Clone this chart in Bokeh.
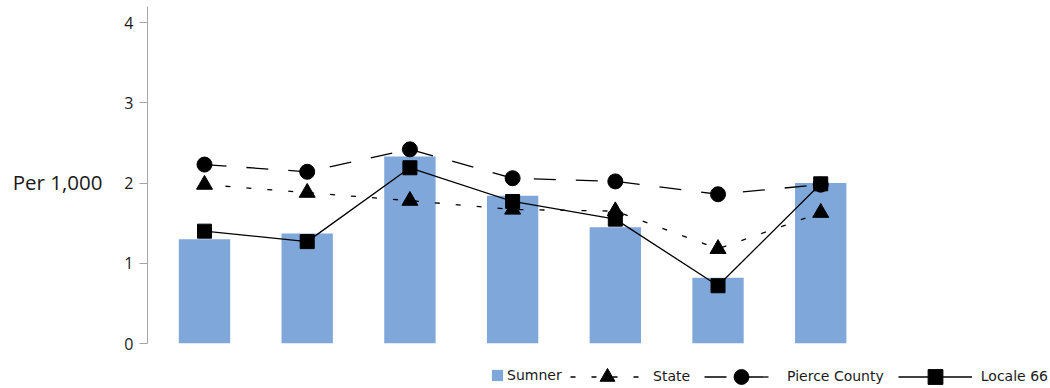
from bokeh.plotting import figure
from bokeh.models import Range1d, FixedTicker, Label, Legend, LegendItem
from bokeh.layouts import column, row
from bokeh.embed import file_html
from bokeh.resources import INLINE

# ---- data ----
periods = [0, 1, 2, 3, 4, 5, 6]
sumner = [1.30, 1.37, 2.33, 1.84, 1.45, 0.82, 2.00]
state = [1.98, 1.88, 1.78, 1.67, 1.65, 1.18, 1.63]
pierce = [2.23, 2.14, 2.42, 2.06, 2.02, 1.86, 1.98]
locale = [1.40, 1.27, 2.19, 1.77, 1.55, 0.72, 1.99]
y_ticks = [0, 1, 2, 3, 4]
y_label = "Per 1,000"

BAR = "#7FA7D9"
STYLE = {
    "state": dict(line_dash="5 16", marker="triangle", size=16),
    "pierce": dict(line_dash="22 20", marker="circle", size=15),
    "locale": dict(line_dash="solid", marker="square", size=14),
}

def add_bars(fig):
    return fig.vbar(x=periods, top=sumner, width=0.5, bottom=0, fill_color=BAR, line_color=None)

def add_series(fig, ys, key):
    st = STYLE[key]
    ln = fig.line(periods, ys, line_color="black", line_width=1.3, line_dash=st["line_dash"])
    mk = fig.scatter(periods, ys, marker=st["marker"], size=st["size"], fill_color="black", line_color="black")
    return [ln, mk]

LEFT_W = 110
MAIN_H = 358

# ---- main chart ----
p = figure(width=1050 - LEFT_W, height=MAIN_H, output_backend="svg", toolbar_location=None,
           x_range=Range1d(-0.555, 6.582), y_range=Range1d(0, 4.2),
           x_axis_location=None, min_border_left=147 - LEFT_W, min_border_right=170,
           min_border_top=6, min_border_bottom=MAIN_H - 343)
p.outline_line_color = None
p.xgrid.visible = False
p.ygrid.visible = False

ax = p.yaxis[0]
ax.ticker = FixedTicker(ticks=y_ticks)
ax.axis_line_color = "#A6A6A6"
ax.major_tick_line_color = "#A6A6A6"
ax.major_tick_out = 8
ax.major_tick_in = 0
ax.minor_tick_line_color = None
ax.major_label_text_font = "Open Sans"
ax.major_label_text_font_size = "16px"
ax.major_label_text_color = "#1a1a1a"
ax.major_label_standoff = 6

add_bars(p)
add_series(p, state, "state")
add_series(p, pierce, "pierce")
add_series(p, locale, "locale")

# ---- y label panel ----
lp = figure(width=LEFT_W, height=MAIN_H, output_backend="svg", toolbar_location=None,
            x_range=Range1d(0, LEFT_W), y_range=Range1d(0, MAIN_H),
            x_axis_location=None, y_axis_location=None, min_border=0)
lp.outline_line_color = None
lp.grid.visible = False
lp.add_layout(Label(x=102, y=MAIN_H - 186, text=y_label, text_align="right", text_baseline="middle",
                    text_font="Open Sans", text_font_size="20.5px", text_color="#1a1a1a"))

# ---- legend panel (glyphs drawn out of view; only the legend shows) ----
LEG_H = 388 - MAIN_H
gp = figure(width=1050, height=LEG_H, output_backend="svg", toolbar_location=None,
            x_range=Range1d(-100, -99), y_range=Range1d(-100, -99),
            x_axis_location=None, y_axis_location=None, min_border=0)
gp.outline_line_color = None
gp.grid.visible = False
r_bar = add_bars(gp)
r_state = add_series(gp, state, "state")
r_pierce = add_series(gp, pierce, "pierce")
r_locale = add_series(gp, locale, "locale")

CENTER_FROM_BOTTOM = 12
leg_style = dict(label_text_font="DejaVu Sans", label_text_font_size="14px", label_text_color="#1a1a1a",
                 padding=0, margin=0, border_line_color=None, background_fill_alpha=0)
leg1 = Legend(items=[LegendItem(label="Sumner", renderers=[r_bar])],
              location=(490, CENTER_FROM_BOTTOM - 7), orientation="horizontal",
              glyph_width=14, glyph_height=14, label_height=14,
              label_standoff=3, **leg_style)
leg2 = Legend(items=[LegendItem(label="State", renderers=r_state),
                     LegendItem(label="Pierce County", renderers=r_pierce),
                     LegendItem(label="Locale 66", renderers=r_locale)],
              location=(570, CENTER_FROM_BOTTOM - 18.5), orientation="horizontal",
              glyph_width=74, glyph_height=37,
              label_standoff=9, spacing=14, **leg_style)
gp.add_layout(leg1, "center")
gp.add_layout(leg2, "center")

layout = column(row(lp, p, spacing=0), gp, spacing=0)
open("out.html", "w").write(file_html(layout, INLINE))
